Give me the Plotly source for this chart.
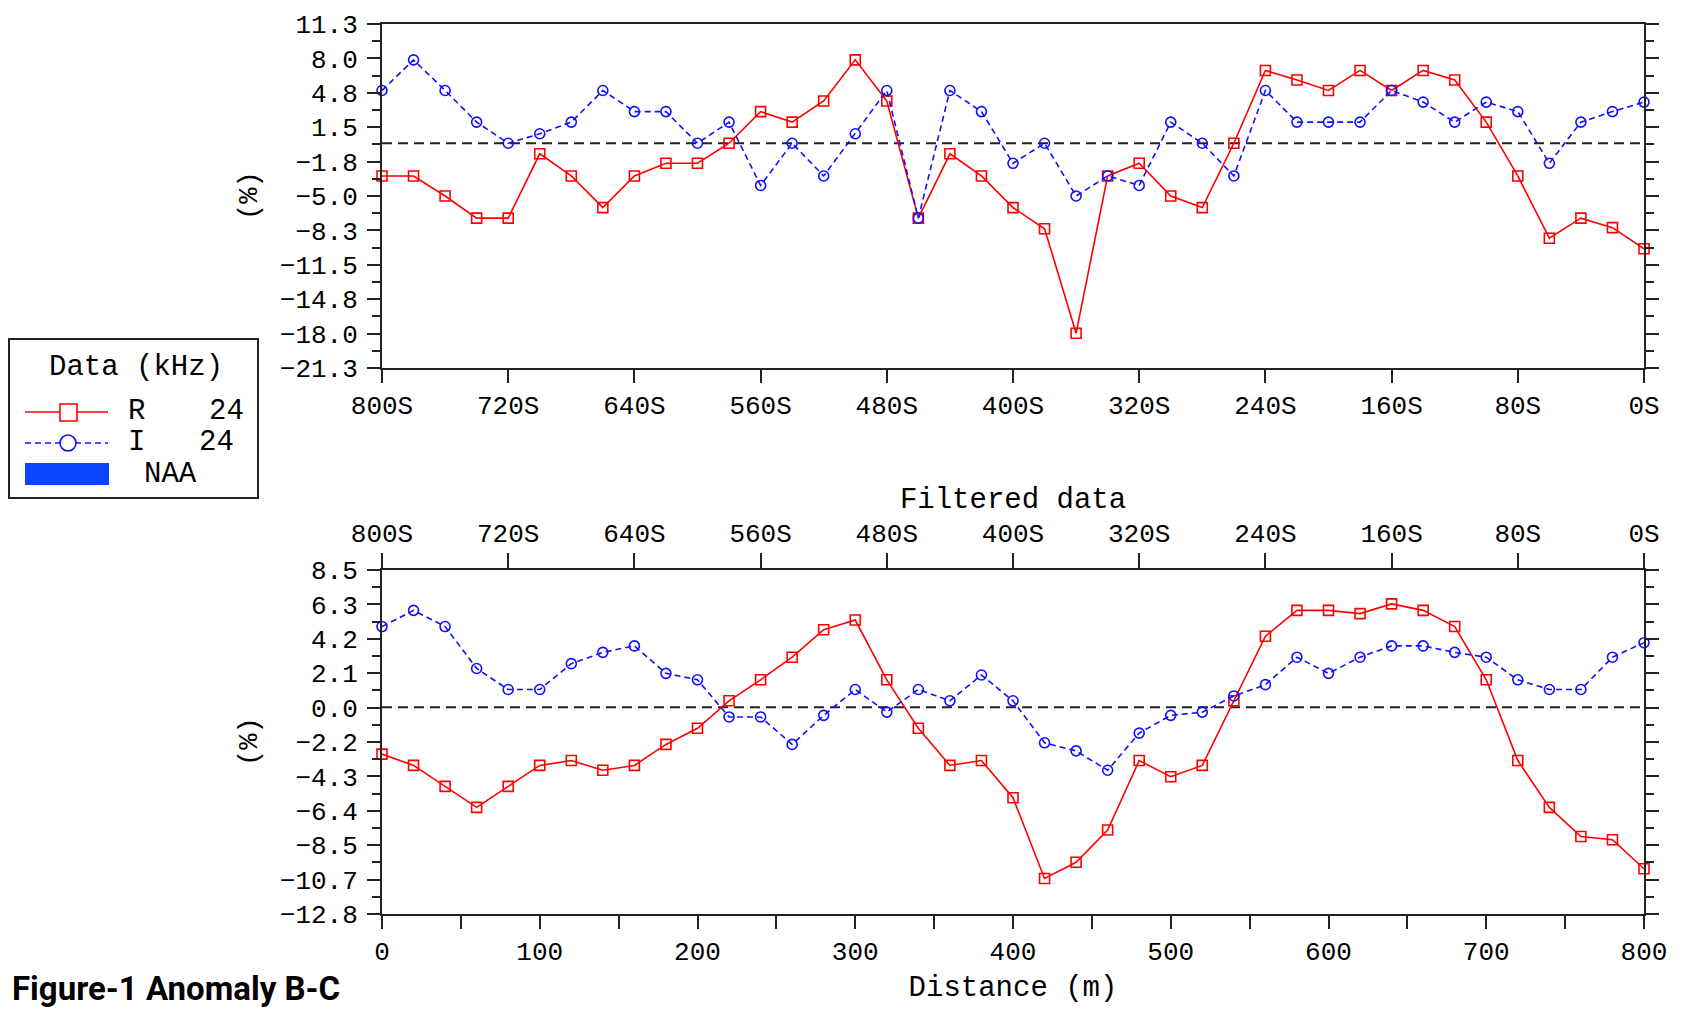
import plotly.graph_objects as go

# ---------------- data ----------------
distance = [0, 20, 40, 60, 80, 100, 120, 140, 160, 180, 200, 220, 240, 260, 280, 300, 320, 340,
            360, 380, 400, 420, 440, 460, 480, 500, 520, 540, 560, 580, 600, 620, 640, 660, 680,
            700, 720, 740, 760, 780, 800]

raw_R = [-3.1, -3.1, -5.0, -7.1, -7.1, -1.0, -3.1, -6.1, -3.1, -1.9, -1.9, 0.0, 3.0, 2.0,
         4.0, 7.9, 4.0, -7.1, -1.0, -3.1, -6.1, -8.1, -18.0, -3.1, -1.9, -5.0, -6.1, 0.0,
         6.9, 6.0, 5.0, 6.9, 5.0, 6.9, 6.0, 2.0, -3.1, -9.0, -7.1, -8.0, -10.0]
raw_I = [5.0, 7.9, 5.0, 2.0, 0.0, 0.9, 2.0, 5.0, 3.0, 3.0, 0.0, 2.0, -4.0, 0.0,
         -3.1, 0.9, 5.0, -7.1, 5.0, 3.0, -1.9, 0.0, -5.0, -3.1, -4.0, 2.0, 0.0, -3.1,
         5.0, 2.0, 2.0, 2.0, 5.0, 3.9, 2.0, 3.9, 3.0, -1.9, 2.0, 3.0, 3.9]

filt_R = [-2.9, -3.6, -4.9, -6.2, -4.9, -3.6, -3.3, -3.9, -3.6, -2.3, -1.3, 0.4, 1.7, 3.1,
          4.8, 5.4, 1.7, -1.3, -3.6, -3.3, -5.6, -10.6, -9.6, -7.6, -3.3, -4.3, -3.6, 0.4,
          4.4, 6.0, 6.0, 5.8, 6.4, 6.0, 5.0, 1.7, -3.3, -6.2, -8.0, -8.2, -10.0]
filt_I = [5.0, 6.0, 5.0, 2.4, 1.1, 1.1, 2.7, 3.4, 3.8, 2.1, 1.7, -0.6, -0.6, -2.3,
          -0.5, 1.1, -0.3, 1.1, 0.4, 2.0, 0.4, -2.2, -2.7, -3.9, -1.6, -0.5, -0.3, 0.7,
          1.4, 3.1, 2.1, 3.1, 3.8, 3.8, 3.4, 3.1, 1.7, 1.1, 1.1, 3.1, 4.0]

station_vals = [0, 80, 160, 240, 320, 400, 480, 560, 640, 720, 800]
station_text = ["800S", "720S", "640S", "560S", "480S", "400S", "320S", "240S", "160S", "80S", "0S"]
dist_vals = [0, 100, 200, 300, 400, 500, 600, 700, 800]

top_range = [-21.3, 11.3]
top_labels = ["11.3", "8.0", "4.8", "1.5", "−1.8", "−5.0", "−8.3", "−11.5", "−14.8", "−18.0", "−21.3"]
bot_range = [-12.8, 8.5]
bot_labels = ["8.5", "6.3", "4.2", "2.1", "0.0", "−2.2", "−4.3", "−6.4", "−8.5", "−10.7", "−12.8"]

# ---------------- geometry helpers ----------------
W, H = 1684, 1010
def px(x):
    return x / W
def py(y):
    return 1 - y / H

def even_ticks(rng, n):
    lo, hi = rng
    step = (hi - lo) / (n - 1)
    major = [hi - i * step for i in range(n)]
    minor = [hi - (i + 0.5) * step for i in range(n - 1)]
    return major, minor

top_major, top_minor = even_ticks(top_range, len(top_labels))
bot_major, bot_minor = even_ticks(bot_range, len(bot_labels))

MONO = "Liberation Mono, Courier New, monospace"
tickfont = dict(family=MONO, size=26, color="black")

RED = "#ff0000"
BLUE = "#1010ff"

fig = go.Figure()

def add_pair(x, r, i, xa, ya):
    fig.add_trace(go.Scatter(x=x, y=r, xaxis=xa, yaxis=ya, mode="lines+markers",
                             line=dict(color=RED, width=1.6),
                             marker=dict(symbol="square-open", size=10, color=RED, line=dict(width=1.6)),
                             showlegend=False, hoverinfo="skip", cliponaxis=False))
    fig.add_trace(go.Scatter(x=x, y=i, xaxis=xa, yaxis=ya, mode="lines+markers",
                             line=dict(color=BLUE, width=1.6, dash="6px,4px"),
                             marker=dict(symbol="circle-open", size=10, color=BLUE, line=dict(width=1.6)),
                             showlegend=False, hoverinfo="skip", cliponaxis=False))

add_pair(distance, raw_R, raw_I, "x", "y")
add_pair(distance, filt_R, filt_I, "x2", "y2")
# empty trace to carry the top station axis of the lower panel
fig.add_trace(go.Scatter(x=[], y=[], xaxis="x3", yaxis="y2", showlegend=False))

dom_x = [px(382), px(1644)]
dom_top = [py(368), py(24)]
dom_bot = [py(914), py(570)]

axis_common = dict(showgrid=False, zeroline=False, showline=True, linecolor="#222",
                   linewidth=2, ticks="outside", tickcolor="#222", tickwidth=2,
                   tickfont=tickfont, automargin=False)

fig.update_layout(
    width=W, height=H,
    margin=dict(l=0, r=0, t=0, b=0),
    paper_bgcolor="white", plot_bgcolor="white",
    xaxis=dict(domain=dom_x, anchor="y", range=[0, 800], tickmode="array",
               tickvals=station_vals, ticktext=station_text, ticklen=13, mirror=True,
               ticklabelstandoff=0, **axis_common),
    yaxis=dict(domain=dom_top, anchor="x", range=top_range, tickmode="array",
               tickvals=top_major, ticktext=top_labels, ticklen=13, mirror="ticks",
               ticklabelstandoff=4,
               minor=dict(tickvals=top_minor, ticklen=8, ticks="outside", tickcolor="#222", tickwidth=2),
               **axis_common),
    xaxis2=dict(domain=dom_x, anchor="y2", range=[0, 800], tickmode="array",
                tickvals=dist_vals, ticktext=[str(v) for v in dist_vals], ticklen=13,
                minor=dict(dtick=50, ticklen=13, ticks="outside", tickcolor="#222", tickwidth=2),
                ticklabelstandoff=0,
                title=dict(text="Distance (m)", font=dict(family=MONO, size=29, color="black"), standoff=8),
                **axis_common),
    xaxis3=dict(domain=dom_x, anchor="y2", overlaying="x2", side="top", range=[0, 800],
                tickmode="array", tickvals=station_vals, ticktext=station_text, ticklen=15,
                ticklabelstandoff=1,
                title=dict(text="Filtered data", font=dict(family=MONO, size=29, color="black"), standoff=2),
                **axis_common),
    yaxis2=dict(domain=dom_bot, anchor="x2", range=bot_range, tickmode="array",
                tickvals=bot_major, ticktext=bot_labels, ticklen=13, mirror="ticks",
                ticklabelstandoff=4,
                minor=dict(tickvals=bot_minor, ticklen=8, ticks="outside", tickcolor="#222", tickwidth=2),
                **axis_common),
)

# zero reference lines
for xr, yr in (("x", "y"), ("x2", "y2")):
    fig.add_shape(type="line", xref=xr, yref=yr, x0=0, x1=800, y0=0, y1=0,
                  line=dict(color="#222", width=2, dash="10px,6px"), layer="below")

# y-axis titles
for yc in (196, 742):
    fig.add_annotation(x=px(250), y=py(yc), xref="paper", yref="paper", text="(%)",
                       textangle=-90, showarrow=False, xanchor="center", yanchor="middle",
                       font=dict(family=MONO, size=27, color="black"))

# ---------------- legend box ----------------
fig.add_shape(type="rect", xref="paper", yref="paper", x0=px(9), x1=px(258), y0=py(498), y1=py(339),
              line=dict(color="#222", width=2), fillcolor="white")
fig.add_annotation(x=px(136), y=py(367), xref="paper", yref="paper", text="Data (kHz)",
                   xanchor="center", yanchor="middle",
                   showarrow=False, font=dict(family=MONO, size=29, color="black"))
# R entry
fig.add_shape(type="line", xref="paper", yref="paper", x0=px(25), x1=px(108), y0=py(412), y1=py(412),
              line=dict(color=RED, width=1.6))
fig.add_shape(type="rect", xref="paper", yref="paper", x0=px(60), x1=px(77), y0=py(421), y1=py(404),
              line=dict(color=RED, width=1.6), fillcolor="white")
fig.add_annotation(x=px(126), y=py(412), xref="paper", yref="paper", text="R", xanchor="left",
                   yanchor="middle", showarrow=False, font=dict(family=MONO, size=29, color="black"))
fig.add_annotation(x=px(246), y=py(412), xref="paper", yref="paper", text="24", xanchor="right",
                   yanchor="middle", showarrow=False, font=dict(family=MONO, size=29, color="black"))
# I entry
fig.add_shape(type="line", xref="paper", yref="paper", x0=px(25), x1=px(108), y0=py(443), y1=py(443),
              line=dict(color=BLUE, width=1.6, dash="6px,4px"))
fig.add_shape(type="circle", xref="paper", yref="paper", x0=px(60), x1=px(76), y0=py(451), y1=py(435),
              line=dict(color=BLUE, width=1.6), fillcolor="white")
fig.add_annotation(x=px(126), y=py(443), xref="paper", yref="paper", text="I", xanchor="left",
                   yanchor="middle", showarrow=False, font=dict(family=MONO, size=29, color="black"))
fig.add_annotation(x=px(236), y=py(443), xref="paper", yref="paper", text="24", xanchor="right",
                   yanchor="middle", showarrow=False, font=dict(family=MONO, size=29, color="black"))
# NAA entry
fig.add_shape(type="rect", xref="paper", yref="paper", x0=px(25), x1=px(109), y0=py(485), y1=py(463),
              line=dict(width=0), fillcolor="#0a46ff")
fig.add_annotation(x=px(142), y=py(474), xref="paper", yref="paper", text="NAA", xanchor="left",
                   yanchor="middle", showarrow=False, font=dict(family=MONO, size=29, color="black"))

# caption
fig.add_annotation(x=px(10), y=py(988), xref="paper", yref="paper", text="<b>Figure-1 Anomaly B-C</b>",
                   xanchor="left", yanchor="middle", showarrow=False,
                   font=dict(family="Liberation Sans Narrow, Arial Narrow, Roboto, sans-serif", size=33, color="black"))

fig.write_html("out.html", config={"displayModeBar": False},
               post_script="document.body.style.margin='0';document.body.style.padding='0';")
